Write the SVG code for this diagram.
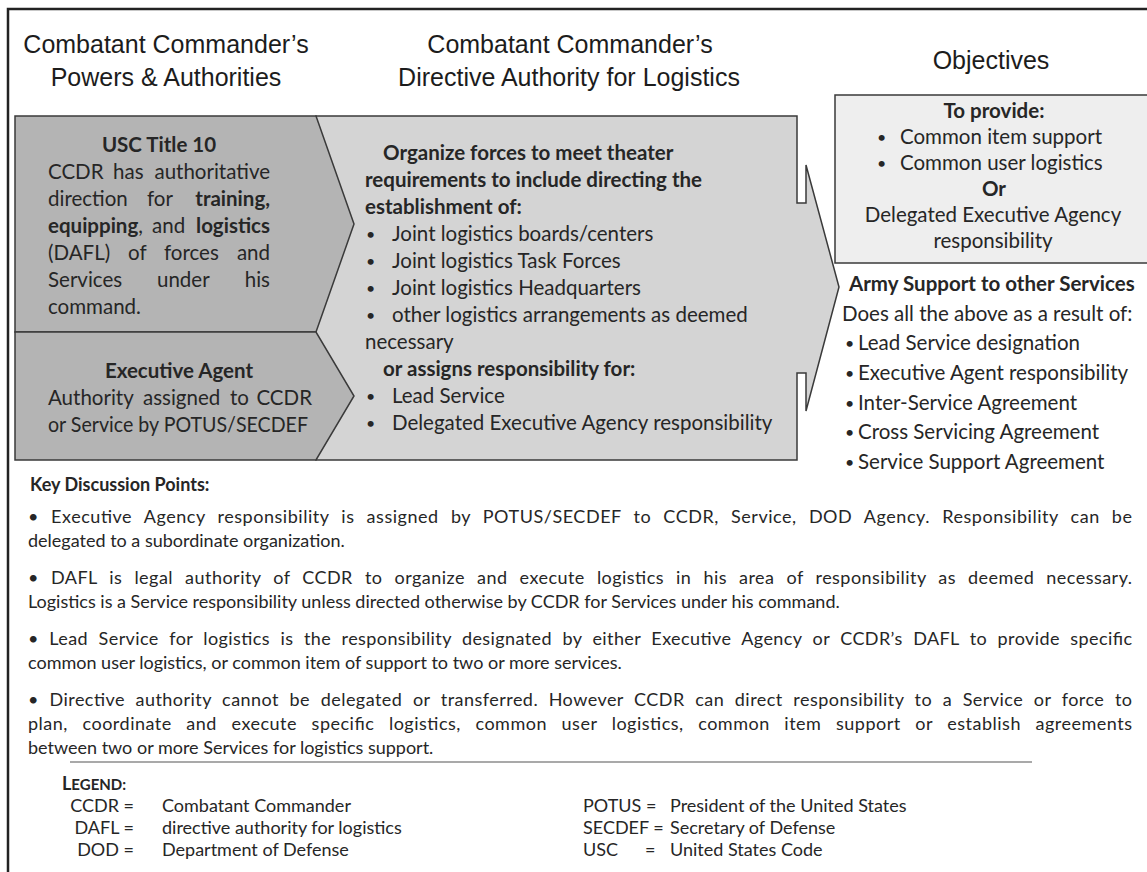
<svg xmlns="http://www.w3.org/2000/svg" width="1147" height="872" viewBox="0 0 1147 872">
<defs>
<style>
.h{font-family:"Liberation Sans",Arial,sans-serif;font-size:25px;fill:#1c1c1c;text-anchor:middle}
.t{font-family:Lato,"Liberation Sans",sans-serif;font-size:20.5px;fill:#262626}
.k{font-family:Lato,"Liberation Sans",sans-serif;font-size:18px;fill:#262626}
.d{font-family:Lato,"Liberation Sans",sans-serif;font-size:16px;fill:#262626}
.b{font-weight:bold}
.c{text-anchor:middle}
.e{text-anchor:end}
.shape{stroke:#3a3a3a;stroke-width:1.5;stroke-linejoin:miter}
</style>
</defs>
<rect width="1147" height="872" fill="#ffffff"/>
<path d="M8 872 V9 H1147" fill="none" stroke="#222" stroke-width="2.5"/>

<g id="headings">
<text class="h" x="166" y="53">Combatant Commander’s</text>
<text class="h" x="166" y="86">Powers &amp; Authorities</text>
<text class="h" x="570" y="53">Combatant Commander’s</text>
<text class="h" x="569" y="86">Directive Authority for Logistics</text>
<text class="h" x="991" y="69">Objectives</text>
</g>

<g id="connectors"></g>

<g id="directive-authority">
<polygon class="shape" fill="#d4d4d4" points="316,116 797,116 797,203 806,203 806,165 839,287 806,411 806,373 797,373 797,460 316,460"/>
<text class="t b" x="383" y="160">Organize forces to meet theater</text>
<text class="t b" x="365" y="187">requirements to include directing the</text>
<text class="t b" x="365" y="214">establishment of:</text>
<text class="d" x="366" y="240">•</text><text class="t" x="392" y="241">Joint logistics boards/centers</text>
<text class="d" x="366" y="267">•</text><text class="t" x="392" y="268">Joint logistics Task Forces</text>
<text class="d" x="366" y="294">•</text><text class="t" x="392" y="295">Joint logistics Headquarters</text>
<text class="d" x="366" y="321">•</text><text class="t" x="392" y="322">other logistics arrangements as deemed</text>
<text class="t" x="365" y="349">necessary</text>
<text class="t b" x="383" y="376">or assigns responsibility for:</text>
<text class="d" x="366" y="402">•</text><text class="t" x="392" y="403">Lead Service</text>
<text class="d" x="366" y="429">•</text><text class="t" x="392" y="430">Delegated Executive Agency responsibility</text>
</g>

<g id="usc-title-10">
<polygon class="shape" fill="#b4b4b4" points="15,116 316,116 354,224 316,332 15,332"/>
<text class="t b c" x="159" y="152">USC Title 10</text>
<text class="t" x="48" y="179">CCDR</text><text class="t" x="113" y="179">has</text><text class="t e" x="270" y="179">authoritative</text>
<text class="t" x="48" y="206">direction</text><text class="t" x="147" y="206">for</text><text class="t b e" x="270" y="206">training,</text>
<text class="t" x="48" y="233"><tspan class="b">equipping</tspan>,</text><text class="t" x="152" y="233">and</text><text class="t b e" x="270" y="233">logistics</text>
<text class="t" x="48" y="260">(DAFL)</text><text class="t" x="128" y="260">of</text><text class="t" x="164" y="260">forces</text><text class="t e" x="270" y="260">and</text>
<text class="t" x="48" y="287">Services</text><text class="t" x="157" y="287">under</text><text class="t e" x="270" y="287">his</text>
<text class="t" x="48" y="314">command.</text>
</g>

<g id="executive-agent">
<polygon class="shape" fill="#b4b4b4" points="15,332 316,332 354,396 316,460 15,460"/>
<text class="t b c" x="179" y="378">Executive Agent</text>
<text class="t" x="48" y="405">Authority</text><text class="t" x="143" y="405">assigned</text><text class="t" x="230" y="405">to</text><text class="t e" x="312" y="405">CCDR</text>
<text class="t" x="48" y="432" textLength="260" lengthAdjust="spacingAndGlyphs">or Service by POTUS/SECDEF</text>
</g>

<g id="objectives">
<rect class="shape" fill="#eeeeee" x="835" y="95" width="330" height="168"/>
<text class="t b c" x="994" y="118">To provide:</text>
<text class="d" x="877" y="143">•</text><text class="t" x="900" y="144">Common item support</text>
<text class="d" x="877" y="169">•</text><text class="t" x="900" y="170">Common user logistics</text>
<text class="t b c" x="994" y="196">Or</text>
<text class="t c" x="993" y="222">Delegated Executive Agency</text>
<text class="t c" x="993" y="248">responsibility</text>
</g>

<g id="army-support">
<text class="t b" x="849" y="291">Army Support to other Services</text>
<text class="t" x="842" y="321">Does all the above as a result of:</text>
<text class="d" x="845" y="349">•</text><text class="t" x="858" y="350">Lead Service designation</text>
<text class="d" x="845" y="379">•</text><text class="t" x="858" y="380">Executive Agent responsibility</text>
<text class="d" x="845" y="409">•</text><text class="t" x="858" y="410">Inter-Service Agreement</text>
<text class="d" x="845" y="438">•</text><text class="t" x="858" y="439">Cross Servicing Agreement</text>
<text class="d" x="845" y="468">•</text><text class="t" x="858" y="469">Service Support Agreement</text>
</g>

<g id="key-discussion-points">
<text class="k b" x="30" y="491">Key Discussion Points:</text>
<text class="k" x="28" y="523" word-spacing="7" textLength="1104" lengthAdjust="spacing">• Executive Agency responsibility is assigned by POTUS/SECDEF to CCDR, Service, DOD Agency. Responsibility can be</text>
<text class="k" x="28" y="547">delegated to a subordinate organization.</text>
<text class="k" x="28" y="584" word-spacing="7" textLength="1104" lengthAdjust="spacing">• DAFL is legal authority of CCDR to organize and execute logistics in his area of responsibility as deemed necessary.</text>
<text class="k" x="28" y="608">Logistics is a Service responsibility unless directed otherwise by CCDR for Services under his command.</text>
<text class="k" x="28" y="645" word-spacing="5.5" textLength="1104" lengthAdjust="spacing">• Lead Service for logistics is the responsibility designated by either Executive Agency or CCDR’s DAFL to provide specific</text>
<text class="k" x="28" y="669">common user logistics, or common item of support to two or more services.</text>
<text class="k" x="28" y="706" word-spacing="5.5" textLength="1104" lengthAdjust="spacing">• Directive authority cannot be delegated or transferred. However CCDR can direct responsibility to a Service or force to</text>
<text class="k" x="28" y="730" word-spacing="9.5" textLength="1104" lengthAdjust="spacing">plan, coordinate and execute specific logistics, common user logistics, common item support or establish agreements</text>
<text class="k" x="28" y="754">between two or more Services for logistics support.</text>
</g>

<g id="legend">
<line x1="70" y1="762" x2="1032" y2="762" stroke="#555" stroke-width="1.2"/>
<text class="k b" x="62" y="790" font-size="19px">L<tspan font-size="15px">EGEND:</tspan></text>
<text class="k e" x="134" y="812">CCDR =</text><text class="k" x="162" y="812">Combatant Commander</text>
<text class="k e" x="134" y="834">DAFL =</text><text class="k" x="162" y="834">directive authority for logistics</text>
<text class="k e" x="134" y="856">DOD =</text><text class="k" x="162" y="856">Department of Defense</text>
<text class="k" x="583" y="812">POTUS =</text><text class="k" x="670" y="812">President of the United States</text>
<text class="k" x="583" y="834">SECDEF =</text><text class="k" x="670" y="834">Secretary of Defense</text>
<text class="k" x="583" y="856">USC</text><text class="k" x="645" y="856">=</text><text class="k" x="670" y="856">United States Code</text>
</g>
</svg>
